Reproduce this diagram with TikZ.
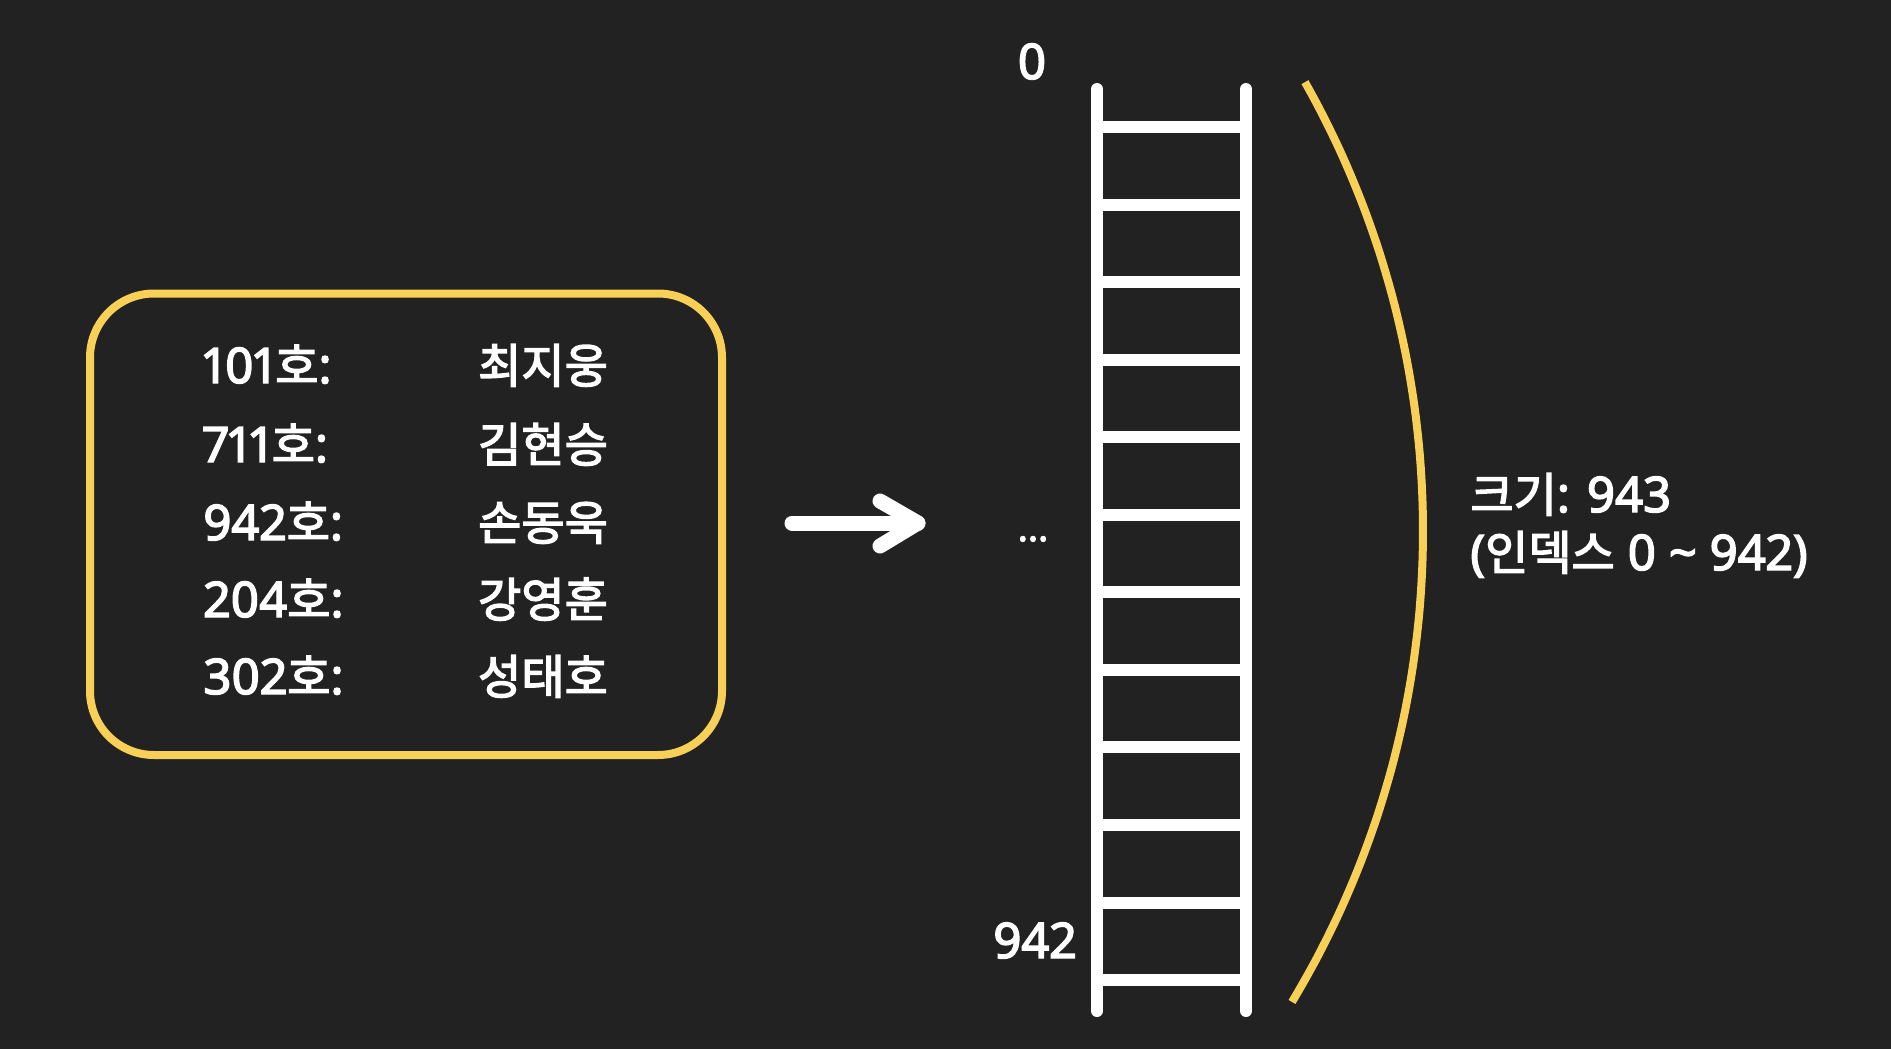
\documentclass[tikz,border=0pt]{standalone}
\usepackage{fontspec}
\setmainfont{Noto Sans CJK KR}[FakeBold=3]
\newfontfamily\latfont{Noto Sans}[Numbers=Proportional, FakeBold=3]
\newcommand\latn[1]{{\latfont\fontsize{24.5pt}{28pt}\selectfont #1}}
\definecolor{bg}{RGB}{34,34,34}
\definecolor{gold}{RGB}{248,208,88}
\begin{document}
\begin{tikzpicture}[x=0.5pt,y=-0.5pt,
  txt/.style={text=white, font=\fontsize{23.5pt}{28pt}\selectfont, inner sep=0pt},
  dotstxt/.style={text=white, font=\latfont\fontsize{19pt}{20pt}\selectfont, inner sep=0pt},
  rail/.style={white, line width=6pt, line cap=round},
  rung/.style={white, line width=6pt},
  goldline/.style={gold, line width=4pt},
  bigarrow/.style={white, line width=7.5pt, line cap=round, line join=round}]
\fill[bg] (0,0) rectangle (1891,1049);
\useasboundingbox (0,0) rectangle (1891,1049);
% box
\draw[goldline, rounded corners=32pt] (90,293.5) rectangle (722,755);
\node[txt, anchor=base west] (k1) at (203,383) {\latn{101}호\latn{:}};
\node[txt, anchor=base west] (k2) at (203,462) {\latn{711}호\latn{:}};
\node[txt, anchor=base west] (k3) at (203,540) {\latn{942}호\latn{:}};
\node[txt, anchor=base west] (k4) at (203,617) {\latn{204}호\latn{:}};
\node[txt, anchor=base west] (k5) at (203,694) {\latn{302}호\latn{:}};
\node[txt, anchor=base] (v1) at (543,383) {최지웅};
\node[txt, anchor=base] (v2) at (543,462) {김현승};
\node[txt, anchor=base] (v3) at (543,540) {손동욱};
\node[txt, anchor=base] (v4) at (543,617) {강영훈};
\node[txt, anchor=base] (v5) at (543,694) {성태호};
% arrow
\coordinate (arrS) at (792,523);
\coordinate (arrE) at (918,523);
\coordinate (armT) at (880,501);
\coordinate (armB) at (880,546);
\draw[bigarrow] (arrS) -- (arrE);
\draw[bigarrow] (armT) -- (arrE) -- (armB);
% ladder
\coordinate (lt) at (1097,89);
\coordinate (lb) at (1097,1011);
\coordinate (rt) at (1246,89);
\coordinate (rb) at (1246,1011);
\foreach \i in {0,...,11}
  \draw[rung] (1097,{127+77.55*\i}) -- (1246,{127+77.55*\i});
\draw[rail] (lt) -- (lb);
\draw[rail] (rt) -- (rb);
\node[txt, anchor=base] (top) at (1032,79) {\latn{0}};
\node[txt, anchor=base] (bot) at (1035,958) {\latn{942}};
\node[dotstxt, anchor=base] (dots) at (1033,541) {...};
% brace arc
\draw[goldline, line cap=butt] plot[domain=-29.46:31.08, samples=80, smooth] ({510.5+912.5*cos(\x)}, {530.9+912.5*sin(\x)});
\node[txt, anchor=base west] (size) at (1470,512) {크기\latn{: 943}};
\node[txt, anchor=base west] (idx) at (1470,570) {\latn{(}인덱스\latn{ 0 \textasciitilde{} 942)}};
\end{tikzpicture}
\end{document}
